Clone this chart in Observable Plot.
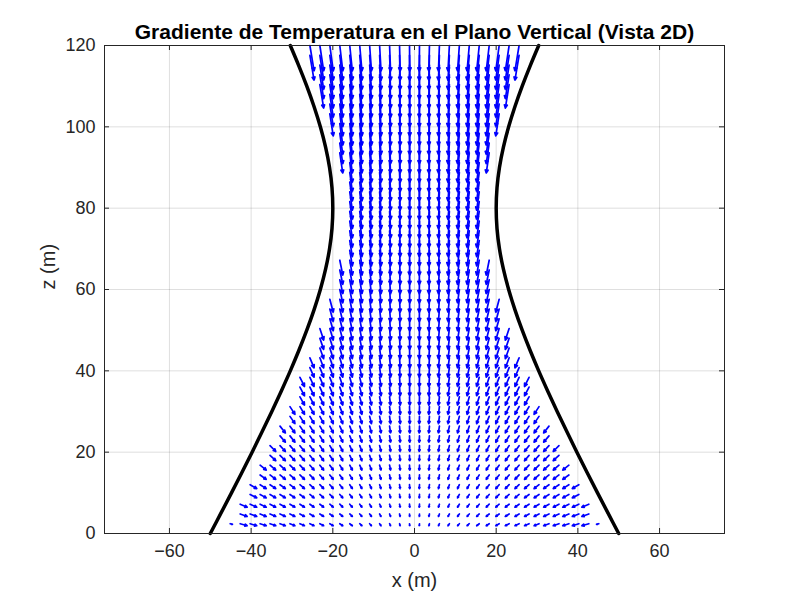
<!DOCTYPE html>
<html><head><meta charset="utf-8">
<script src="https://cdn.jsdelivr.net/npm/d3@7"></script>
<script src="https://cdn.jsdelivr.net/npm/@observablehq/plot@0.6"></script>
<style>body{margin:0;background:#fff;font-family:"Liberation Sans",Arial,sans-serif}</style>
</head><body><div id="chart"></div>
<script>
// column positions of the arrow grid (m)
const xCols = [-50.00,-47.56,-45.12,-42.68,-40.24,-37.80,-35.37,-32.93,-30.49,-28.05,-25.61,-23.17,-20.73,-18.29,-15.85,-13.41,-10.98,-8.54,-6.10,-3.66,-1.22,
               1.22,3.66,6.10,8.54,10.98,13.41,15.85,18.29,20.73,23.17,25.61,28.05,30.49,32.93,35.37,37.80,40.24,42.68,45.12,47.56,50.00];
// horizontal arrow component per column (m, as drawn)
const uCol = [2.00,1.90,1.80,1.71,1.61,1.51,1.41,1.32,1.22,1.12,1.02,0.93,0.83,0.73,0.63,0.54,0.44,0.34,0.24,0.15,0.05,
              -0.05,-0.15,-0.24,-0.34,-0.44,-0.54,-0.63,-0.73,-0.83,-0.93,-1.02,-1.12,-1.22,-1.32,-1.41,-1.51,-1.61,-1.71,-1.80,-1.90,-2.00];
// row heights of the arrow grid (m)
const zRows = [2.4,4.8,7.2,9.6,12,14.4,16.8,19.2,21.6,24,26.4,28.8,31.2,33.6,36,38.4,40.8,43.2,45.6,48,
               50.4,52.8,55.2,57.6,60,62.4,64.8,67.2,69.6,72,74.4,76.8,79.2,81.6,84,86.4,88.8,91.2,93.6,96,
               98.4,100.8,103.2,105.6,108,110.4,112.8,115.2,117.6,120];
// vertical arrow component per row (m, as drawn)
const vRow = [-0.49,-0.61,-0.73,-0.84,-0.96,-1.08,-1.20,-1.31,-1.43,-1.55,-1.67,-1.78,-1.90,-2.02,-2.14,-2.25,-2.37,-2.49,-2.61,-2.72,
              -2.84,-2.96,-3.08,-3.20,-3.31,-3.43,-3.55,-3.67,-3.78,-3.90,-4.02,-4.14,-4.25,-4.37,-4.49,-4.61,-4.72,-4.84,-4.96,-5.08,
              -5.19,-5.31,-5.43,-5.55,-5.66,-5.78,-5.90,-6.02,-6.13,-6.25];
// number of arrow columns on each side of the axis, per row
const rowHalfCount = [18,18,18,17,17,16,16,15,15,14,14,13,13,12,12,12,11,11,10,10,
                      10,9,9,9,8,8,8,8,7,7,7,7,7,7,7,7,7,7,8,8,
                      8,8,9,9,9,10,10,10,11,11];
// short outermost arrows of the bottom row: x, z, u, v
const edgeArrows = [[-45.12,2.4,0.55,-0.15],[45.12,2.4,-0.55,-0.15]];
// tower wall (hyperbola) : height and radius
const wallZ = [0,5,10,15,20,25,30,35,40,45,50,55,60,65,70,75,80,85,90,95,100,105,110,115,120];
const wallR = [50.0,47.39,44.81,42.26,39.76,37.32,34.93,32.63,30.41,28.32,26.37,24.60,23.05,21.77,20.80,20.20,20.0,20.20,20.80,21.77,23.05,24.60,26.37,28.32,30.41];
const xTicks = [-60,-40,-20,0,20,40,60];
const zTicks = [0,20,40,60,80,100,120];
const xDomain = [-75.9,75.9];
const zDomain = [0,120];
const titleText = "Gradiente de Temperatura en el Plano Vertical (Vista 2D)";
const xLabel = "x (m)";
const zLabel = "z (m)";

const arrows = [];
zRows.forEach((z, j) => {
  const n = rowHalfCount[j];
  xCols.forEach((x, i) => {
    const k = i < 21 ? 20 - i : i - 21;
    if (k < n) arrows.push({x, z, u: uCol[i], v: vRow[j]});
  });
});
edgeArrows.forEach(([x, z, u, v]) => arrows.push({x, z, u, v}));
const leftWall = wallZ.map((z, i) => ({x: -wallR[i], z}));
const rightWall = wallZ.map((z, i) => ({x: wallR[i], z}));

const ink = "#262626";
const chart = Plot.plot({
  width: 800, height: 600,
  marginLeft: 104, marginRight: 76, marginTop: 45, marginBottom: 67,
  x: {domain: xDomain},
  y: {domain: zDomain},
  style: {fontFamily: "'Liberation Sans', Arial, sans-serif", background: "white", color: ink},
  marks: [
    Plot.gridX(xTicks, {stroke: ink, strokeOpacity: 0.15}),
    Plot.gridY(zTicks, {stroke: ink, strokeOpacity: 0.15}),
    Plot.arrow(arrows, {x1: "x", y1: "z", x2: d => d.x + d.u, y2: d => d.z + d.v,
      stroke: "#0000ff", strokeWidth: 1.7, headLength: 3, headAngle: 50}),
    Plot.line(leftWall, {x: "x", y: "z", curve: "catmull-rom", stroke: "black", strokeWidth: 3.5}),
    Plot.line(rightWall, {x: "x", y: "z", curve: "catmull-rom", stroke: "black", strokeWidth: 3.5}),
    Plot.frame({stroke: ink}),
    Plot.tickX(xTicks, {x: d => d, stroke: ink, insetTop: 483}),
    Plot.tickX(xTicks, {x: d => d, stroke: ink, insetBottom: 483}),
    Plot.tickY(zTicks, {y: d => d, stroke: ink, insetRight: 615}),
    Plot.tickY(zTicks, {y: d => d, stroke: ink, insetLeft: 615}),
    Plot.axisX(xTicks, {tickSize: 0, tickPadding: 11, fontSize: 18, label: null, fill: ink}),
    Plot.axisY(zTicks, {tickSize: 0, tickPadding: 9, fontSize: 18, label: null, fill: ink}),
    Plot.text([xLabel], {frameAnchor: "bottom", lineAnchor: "middle", dy: 47, fontSize: 20, fill: ink}),
    Plot.text([zLabel], {frameAnchor: "left", lineAnchor: "middle", dx: -56, rotate: -90, fontSize: 20, fill: ink}),
    Plot.text([titleText], {frameAnchor: "top", lineAnchor: "middle", dy: -13, fontSize: 21, fontWeight: "bold", fill: "black"})
  ]
});
document.getElementById("chart").appendChild(chart);
</script>
</body></html>
